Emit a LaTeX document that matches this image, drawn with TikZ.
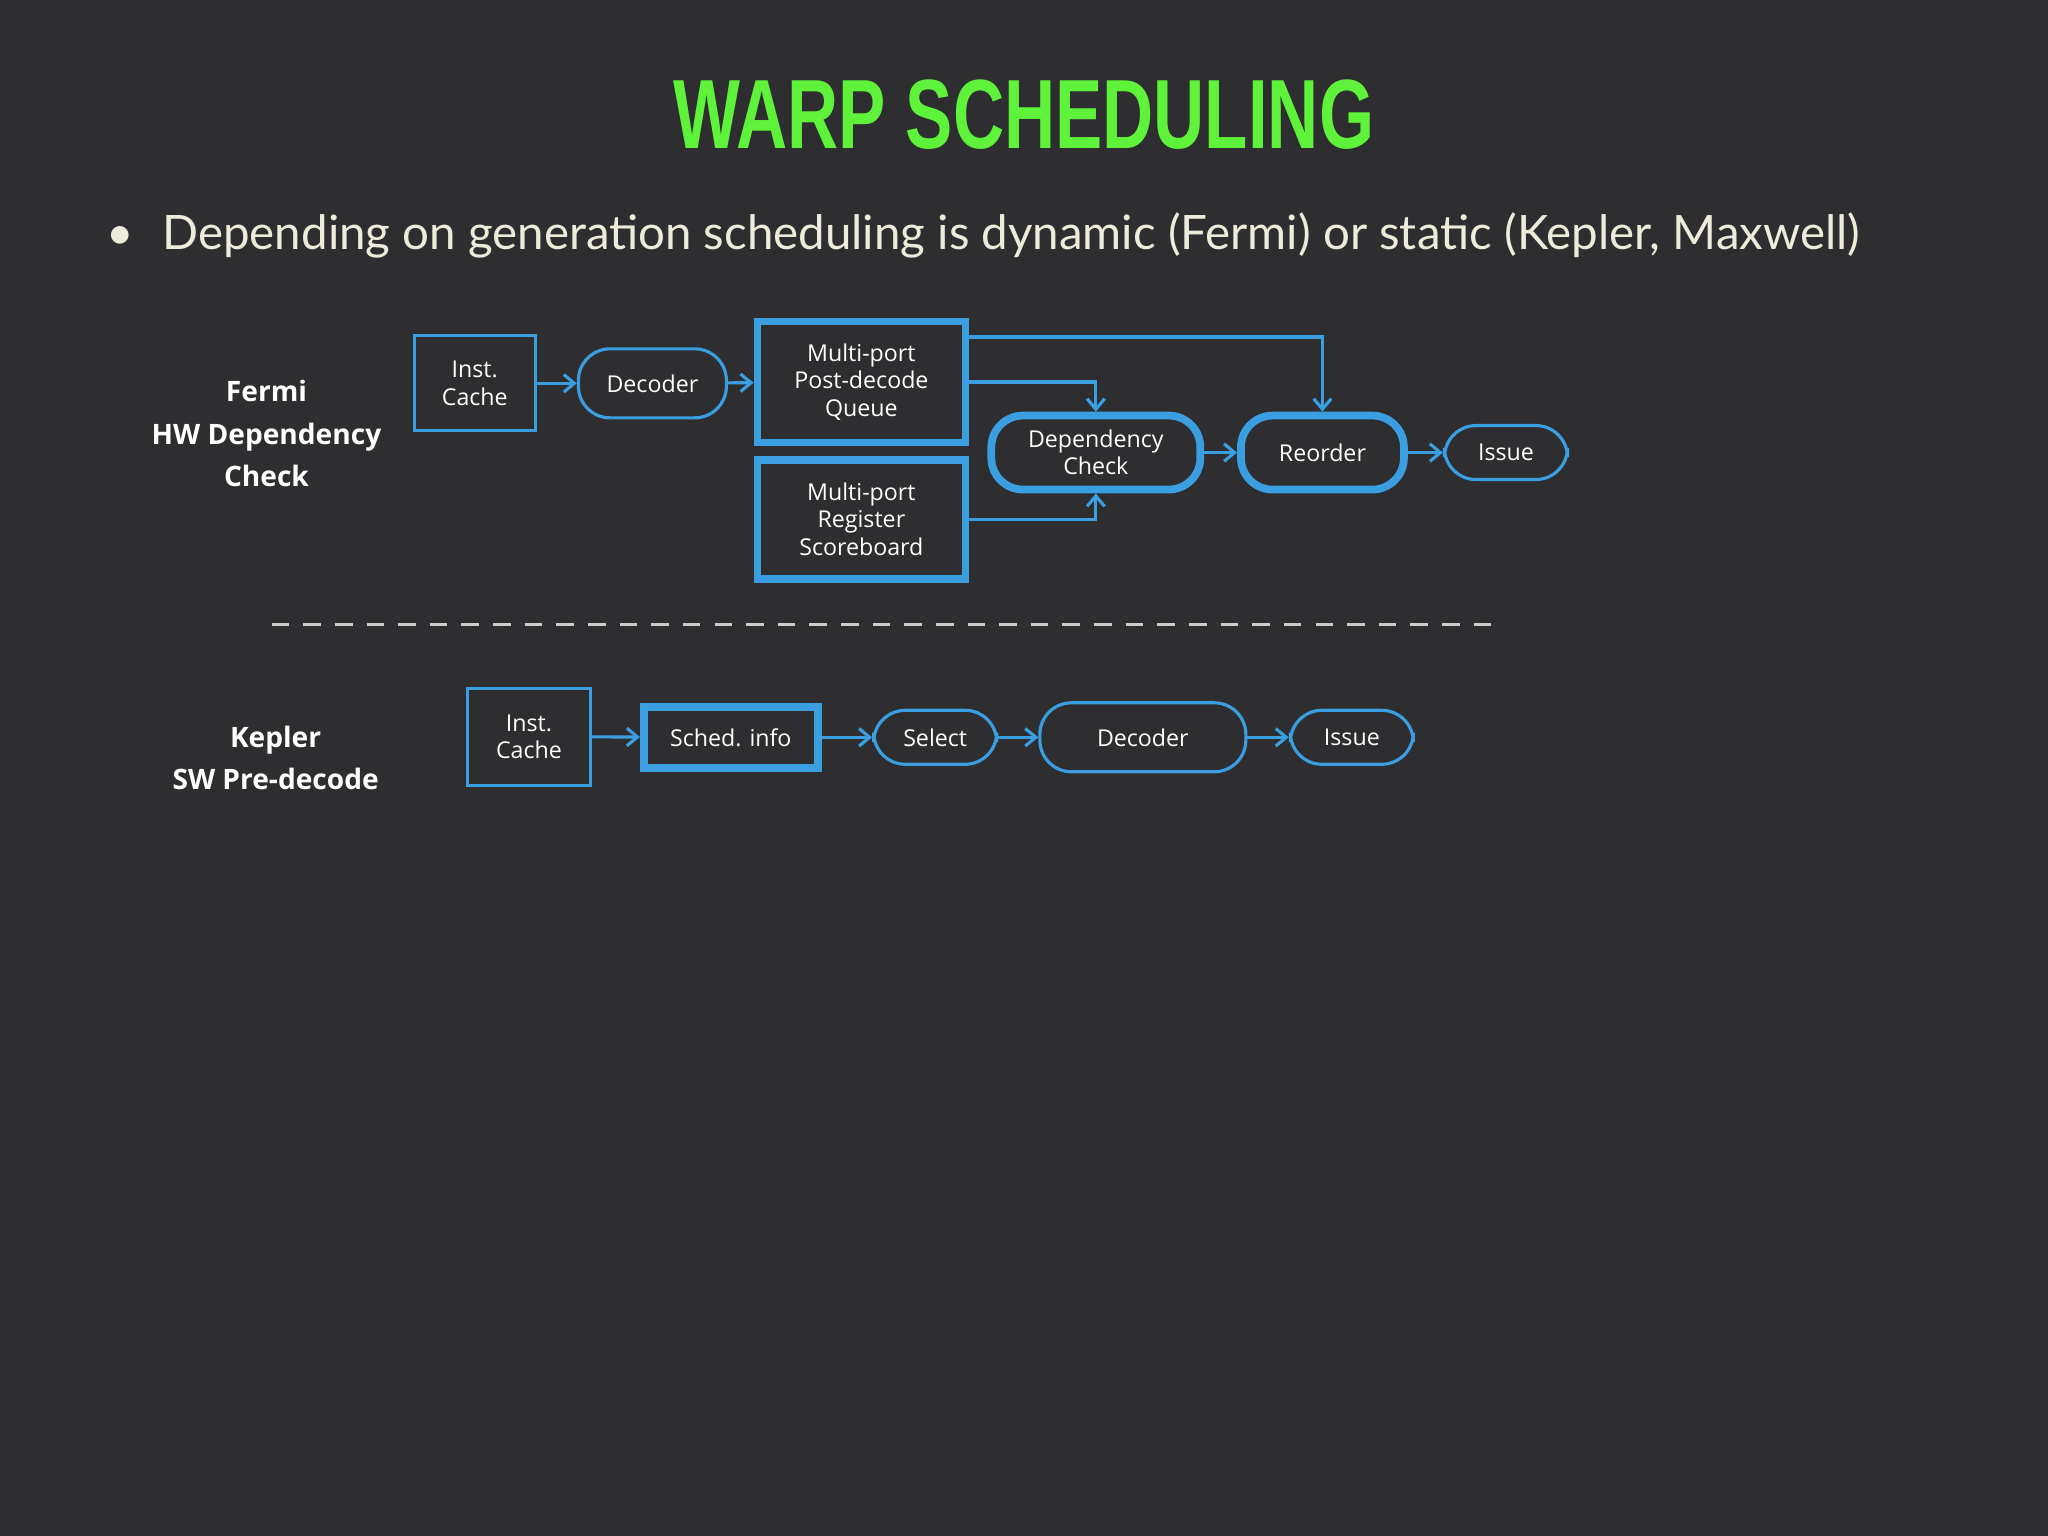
\documentclass[tikz,border=0pt]{standalone}
\usepackage{fontspec}
\usepackage{graphicx}
\setmainfont{Open Sans}
\newfontfamily\latofont{Lato}
\newfontfamily\titlefont{Liberation Sans}
\usetikzlibrary{arrows.meta}
\definecolor{bgdark}{HTML}{2E2E30}
\definecolor{boxblue}{HTML}{3A9EE0}
\definecolor{titlegreen}{HTML}{5EF23A}
\definecolor{bodytext}{HTML}{EDEBD9}
\begin{document}
\begin{tikzpicture}[x=0.01306cm, y=-0.01306cm,
box/.style={rectangle, draw=boxblue, line width=0.9pt, align=center, inner sep=0pt, text=white, font=\fontsize{6.6}{7.8}\selectfont},
thickbox/.style={box, line width=2.2pt},
pill/.style={box, rounded corners=9pt},
thickpill/.style={pill, line width=2.2pt},
lbl/.style={align=center, text=white, font=\fontsize{8}{12}\selectfont\bfseries},
flow/.style={draw=boxblue, line width=0.9pt, -{Straight Barb[length=3pt,width=5pt]}},
]
\fill[bgdark] (0,0) rectangle (1568,1176);
\useasboundingbox (0,0) rectangle (1568,1176);
%Title and text
\node[text=titlegreen, font=\fontsize{28}{30}\selectfont\bfseries] (title) at (784,88) {\titlefont\scalebox{0.72}[1]{WARP SCHEDULING}};
\node[anchor=west, text=bodytext, font=\fontsize{13.5}{16}\selectfont\latofont] (bullet) at (72,180) {\textbullet\hspace{0.6em}Depending on generation scheduling is dynamic (Fermi) or static (Kepler, Maxwell)};
%Fermi
\node[lbl] (fermi) at (204,332) {Fermi\\HW Dependency\\Check};
\node[box, minimum width=1.21cm, minimum height=0.95cm] (icache) at (363.5,293.5) {Inst.\\Cache};
\node[pill, minimum width=1.48cm, minimum height=0.69cm] (decoder) at (499.5,293.5) {Decoder};
\node[thickbox, minimum width=2.08cm, minimum height=1.21cm] (queue) at (659.5,292.5) {Multi-port\\Post-decode\\Queue};
\node[thickbox, minimum width=2.08cm, minimum height=1.19cm] (score) at (659.5,397.5) {Multi-port\\Register\\Scoreboard};
\node[thickpill, minimum width=2.09cm, minimum height=0.74cm] (depcheck) at (839,346.5) {Dependency\\Check};
\node[thickpill, minimum width=1.63cm, minimum height=0.74cm] (reorder) at (1012.5,346.5) {Reorder};
\node[pill, minimum width=1.23cm, minimum height=0.54cm] (issue) at (1153,346.5) {Issue};
\coordinate (qtop) at (739,258);
\draw[flow] (icache) -- (decoder);
\draw[flow] (decoder) -- (queue);
\draw[flow] (queue.east) -| (depcheck.north);
\draw[flow] (qtop) -| (reorder.north);
\draw[flow] (score.east) -| (depcheck.south);
\draw[flow] (depcheck) -- (reorder);
\draw[flow] (reorder) -- (issue);
%Separator
\coordinate (sepl) at (208,478);
\coordinate (sepr) at (1148,478);
\draw[white!80!black, line width=0.7pt, dash pattern=on 5pt off 4pt] (sepl) -- (sepr);
%Kepler
\node[lbl] (kepler) at (211,580) {Kepler\\SW Pre-decode};
\node[box, minimum width=1.23cm, minimum height=0.97cm] (kicache) at (405,564) {Inst.\\Cache};
\node[thickbox, minimum width=1.74cm, minimum height=0.61cm] (sched) at (559.5,564.5) {Sched. info};
\node[pill, minimum width=1.23cm, minimum height=0.54cm] (select) at (716,564.5) {Select};
\node[pill, minimum width=2.06cm, minimum height=0.69cm] (kdecoder) at (875,564.5) {Decoder};
\node[pill, minimum width=1.23cm, minimum height=0.54cm] (kissue) at (1035,564.5) {Issue};
\draw[flow] (kicache) -- (sched);
\draw[flow] (sched) -- (select);
\draw[flow] (select) -- (kdecoder);
\draw[flow] (kdecoder) -- (kissue);
\end{tikzpicture}
\end{document}
